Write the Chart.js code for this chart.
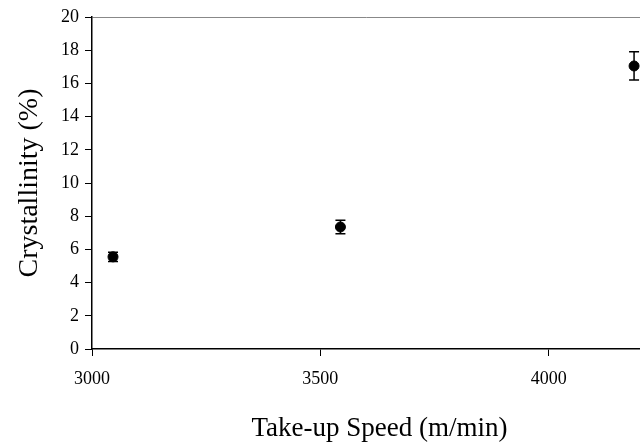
<!DOCTYPE html>
<html>
<head>
<meta charset="utf-8">
<script src="https://cdn.jsdelivr.net/npm/chart.js@4"></script>
<style>
  html, body { margin: 0; padding: 0; background: #fff; overflow: hidden; }
  #wrap { width: 646px; height: 443px; }
</style>
</head>
<body>
<div id="wrap"><canvas id="chart"></canvas></div>
<script>
const speeds = [3046, 3544, 4187];
const crystallinity = [5.55, 7.35, 17.05];
const errors = [0.28, 0.4, 0.85];
const xTicks = [3000, 3500, 4000];

// draws the vertical error bars with caps
const errorBars = {
    id: 'errorBars',
    afterDatasetsDraw(chart) {
        const { ctx, scales: { x, y } } = chart;
        ctx.save();
        ctx.strokeStyle = '#000';
        ctx.lineWidth = 1.5;
        speeds.forEach((s, i) => {
            const px = x.getPixelForValue(s);
            const top = y.getPixelForValue(crystallinity[i] + errors[i]);
            const bot = y.getPixelForValue(crystallinity[i] - errors[i]);
            ctx.beginPath();
            ctx.moveTo(px, top); ctx.lineTo(px, bot);
            ctx.moveTo(px - 5, top); ctx.lineTo(px + 5, top);
            ctx.moveTo(px - 5, bot); ctx.lineTo(px + 5, bot);
            ctx.stroke();
        });
        ctx.restore();
    }
};

new Chart(document.getElementById('chart'), {
    type: 'scatter',
    data: {
        datasets: [{
            data: speeds.map((s, i) => ({ x: s, y: crystallinity[i] })),
            backgroundColor: '#000',
            borderColor: '#000',
            pointRadius: 5,
            pointHoverRadius: 5
        }]
    },
    options: {
        responsive: true,
        maintainAspectRatio: false,
        animation: false,
        layout: { padding: { top: 17, right: 0, left: 0, bottom: 0 } },
        plugins: { legend: { display: false }, tooltip: { enabled: false } },
        scales: {
            x: {
                type: 'linear',
                min: 3000,
                max: 4200,
                afterBuildTicks: scale => { scale.ticks = xTicks.map(v => ({ value: v })); },
                afterFit: scale => { scale.height = 94; },
                border: { color: '#000', width: 1.5 },
                grid: { drawOnChartArea: false, tickLength: 7, tickColor: '#000' },
                ticks: {
                    color: '#000',
                    padding: 12,
                    maxRotation: 0,
                    callback: v => String(v),
                    font: { family: 'Liberation Serif', size: 18 }
                },
                title: {
                    display: true,
                    text: '    Take-up Speed (m/min)',
                    color: '#000',
                    padding: { top: 20, bottom: -2 },
                    font: { family: 'Liberation Serif', size: 27 }
                }
            },
            y: {
                min: 0,
                max: 20,
                afterFit: scale => { scale.width = 92; },
                border: { color: '#000', width: 1.5 },
                grid: {
                    color: c => c.tick && c.tick.value === 20 ? '#888' : 'transparent',
                    tickColor: '#000',
                    tickLength: 7
                },
                ticks: {
                    stepSize: 2,
                    color: '#000',
                    padding: 6,
                    font: { family: 'Liberation Serif', size: 18 }
                },
                title: {
                    display: true,
                    text: 'Crystallinity (%)',
                    color: '#000',
                    padding: { top: 13, bottom: 4 },
                    font: { family: 'Liberation Serif', size: 28 }
                }
            }
        }
    },
    plugins: [errorBars]
});
</script>
</body>
</html>
